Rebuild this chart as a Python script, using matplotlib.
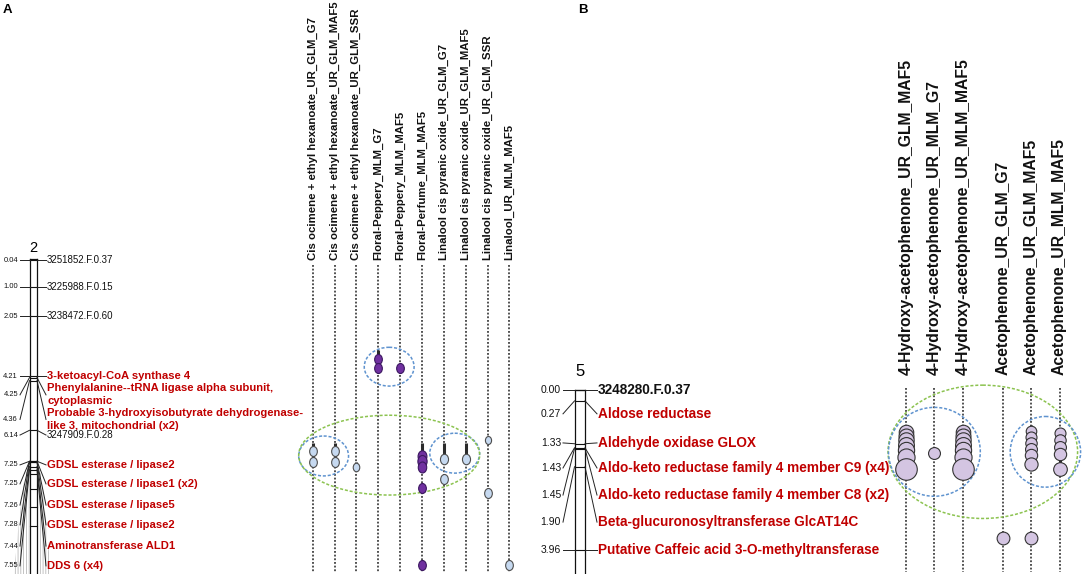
import numpy as np
import matplotlib
matplotlib.use('Agg')
import matplotlib.pyplot as plt
from matplotlib.patches import Ellipse, Polygon
from matplotlib.path import Path
from matplotlib.transforms import Affine2D

plt.rcParams['font.family'] = ['Liberation Sans', 'DejaVu Sans']
plt.rcParams['hatch.linewidth'] = 0.5

# ---------------- panel A : linkage group 2 ----------------
lg_a = '2'
pos_a = [0.04, 1.00, 2.05, 4.21, 4.25, 4.36, 6.14, 7.25, 7.25, 7.26, 7.28, 7.44, 7.55]
names_a = ['3251852.F.0.37', '3225988.F.0.15', '3238472.F.0.60',
           '3-ketoacyl-CoA synthase 4',
           'Phenylalanine--tRNA ligase alpha subunit,\ncytoplasmic',
           'Probable 3-hydroxyisobutyrate dehydrogenase-\nlike 3, mitochondrial (x2)',
           '3247909.F.0.28',
           'GDSL esterase / lipase2', 'GDSL esterase / lipase1 (x2)',
           'GDSL esterase / lipase5', 'GDSL esterase / lipase2',
           'Aminotransferase ALD1', 'DDS 6 (x4)']
gene_a = [False, False, False, True, True, True, False,
          True, True, True, True, True, True]
# unlabelled loci crossing the bar (cM)
extra_a = [7.71, 8.24, 8.90, 9.57]

traits_a = ['Cis ocimene + ethyl hexanoate_UR_GLM_G7',
            'Cis ocimene + ethyl hexanoate_UR_GLM_MAF5',
            'Cis ocimene + ethyl hexanoate_UR_GLM_SSR',
            'Floral-Peppery_MLM_G7',
            'Floral-Peppery_MLM_MAF5',
            'Floral-Perfume_MLM_MAF5',
            'Linalool cis pyranic oxide_UR_GLM_G7',
            'Linalool cis pyranic oxide_UR_GLM_MAF5',
            'Linalool cis pyranic oxide_UR_GLM_SSR',
            'Linalool_UR_MLM_MAF5']
sensory_a = [False, False, False, True, True, True, False, False, False, False]
# QTL peaks per trait: (cM, score)
qtl_a = [
    [(6.88, 2.0), (7.28, 2.0)],
    [(6.88, 2.0), (7.28, 2.0)],
    [(7.46, 1.7)],
    [(3.59, 2.0), (3.90, 2.0)],
    [(3.90, 2.0)],
    [(7.06, 2.3), (7.23, 2.4), (7.44, 2.2), (8.20, 2.0), (10.97, 2.0)],
    [(7.18, 2.1), (7.89, 2.0)],
    [(7.18, 2.1)],
    [(6.49, 1.6), (8.40, 2.0)],
    [(10.97, 2.0)],
]
ci_a = [(6.59, 7.46), (6.59, 7.46), (7.28, 7.56), (3.26, 3.98), (3.80, 3.98),
        (6.59, 7.42), (6.59, 7.17), (6.59, 7.17), None, None]
# grouping ovals: (trait indices, centre cM, height cM, colour)
groups_a = [([3, 4], 3.86, 1.39, 'blue'),
            ([0, 1], 7.06, 1.43, 'blue'),
            ([6, 7], 6.96, 1.43, 'blue'),
            ([0, 1, 2, 3, 4, 5, 6, 7], 7.03, 2.86, 'green')]

# ---------------- panel B : linkage group 5 ----------------
lg_b = '5'
pos_b = [0.00, 0.27, 1.33, 1.43, 1.45, 1.90, 3.96]
names_b = ['3248280.F.0.37', 'Aldose reductase', 'Aldehyde oxidase GLOX',
           'Aldo-keto reductase family 4 member C9 (x4)',
           'Aldo-keto reductase family 4 member C8 (x2)',
           'Beta-glucuronosyltransferase GlcAT14C',
           'Putative Caffeic acid 3-O-methyltransferase']
gene_b = [False, True, True, True, True, True, True]

traits_b = ['4-Hydroxy-acetophenone_UR_GLM_MAF5',
            '4-Hydroxy-acetophenone_UR_MLM_G7',
            '4-Hydroxy-acetophenone_UR_MLM_MAF5',
            'Acetophenone_UR_GLM_G7',
            'Acetophenone_UR_GLM_MAF5',
            'Acetophenone_UR_MLM_MAF5']
qtl_b = [
    [(1.04, 3.3), (1.14, 3.4), (1.24, 3.5), (1.36, 3.6), (1.49, 3.7), (1.66, 3.9), (1.96, 4.9)],
    [(1.55, 2.7)],
    [(1.04, 3.3), (1.14, 3.4), (1.24, 3.5), (1.36, 3.6), (1.49, 3.7), (1.66, 3.9), (1.96, 4.9)],
    [(3.67, 2.9)],
    [(1.01, 2.4), (1.16, 2.5), (1.31, 2.6), (1.46, 2.7), (1.61, 2.8), (1.83, 3.0), (3.67, 2.9)],
    [(1.06, 2.5), (1.24, 2.6), (1.41, 2.7), (1.58, 2.8), (1.96, 3.1)],
]
ci_b = [None, (1.41, 1.68), None, None, (0.87, 1.98), (0.94, 1.98)]
groups_b = [([0, 1, 2, 3, 4, 5], 1.53, 3.30, 'green'),
            ([0, 1, 2], 1.53, 2.20, 'blue'),
            ([4, 5], 1.53, 1.75, 'blue')]

# ---------------- layout ----------------
W, H = 1084, 574
fig = plt.figure(figsize=(W / 100, H / 100), dpi=100)


def full_axes(ylim):
    ax = fig.add_axes([0, 0, 1, 1])
    ax.set_xlim(0, W)
    ax.set_ylim(*ylim)
    ax.axis('off')
    ax.patch.set_alpha(0)
    return ax


lay = full_axes((H, 0))
a0, ak = 259, 27.9      # pixel row of 0 cM, pixels per cM
b0, bk = 390, 40.4
axA = full_axes(((H - a0) / ak, -a0 / ak))
axB = full_axes(((H - b0) / bk, -b0 / bk))

RED = '#c00000'
ring = {'blue': '#5f93cf', 'green': '#8cc350'}

oval_a = Path.unit_circle().transformed(Affine2D().scale(1.0, 1.3))
oval_b = Path.unit_circle().transformed(Affine2D().scale(1.0, 1.0))


def draw_group(ax, pos, names, genes, lab_y, bar_l, bar_r, bar_end, extra,
               val_x, txt_x, fs_val, fs_gene, fs_mark, mark_bold):
    for x in (bar_l, bar_r):
        ax.plot([x, x], [0, bar_end], color='#111', lw=0.9)
    ax.plot([bar_l, bar_r], [0, 0], color='#111', lw=0.9)
    for p in list(pos) + list(extra):
        ax.plot([bar_l, bar_r], [p, p], color='#111', lw=0.8)
    for p, nm, g, ly in zip(pos, names, genes, lab_y):
        ax.plot([val_x + 2, bar_l], [ly, p], color='#222', lw=0.7)
        ax.plot([bar_r, txt_x - 1], [p, ly], color='#222', lw=0.7)
        ax.text(val_x, ly, f'{p:.2f}', ha='right', va='center',
                fontsize=fs_val, color='#111')
        if g:
            ax.text(txt_x, ly, nm, ha='left', va='center', fontsize=fs_gene,
                    color=RED, fontweight='bold', linespacing=1.4)
        else:
            ax.text(txt_x, ly, nm, ha='left', va='center', fontsize=fs_mark,
                    color='#111', fontweight='bold' if mark_bold else 'normal')


# label rows (in cM-equivalent units of each map)
lab_a = [0.04, 1.00, 2.05, 4.21, 4.87, 5.75, 6.31, 7.38, 8.06, 8.82, 9.53, 10.29, 11.00]
lab_b = [0.00, 0.59, 1.31, 1.93, 2.60, 3.27, 3.96]

draw_group(axA, pos_a, names_a, gene_a, lab_a, 29.5, 37.0, 12.0, extra_a,
           18, 47, 5.4, 8.1, 7.0, False)
draw_group(axB, pos_b, names_b, gene_b, lab_b, 574.5, 585.0, 5.0, [],
           561, 598, 7.5, 9.8, 9.8, True)

# fans of unlabelled connectors below the GDSL cluster
lay.add_patch(Polygon([(29.5, 468), (29.5, 574), (14, 574), (19, 520), (25, 474)],
                      closed=True, fill=False, hatch='||||||', edgecolor='#aaa', lw=0))
lay.add_patch(Polygon([(37, 468), (37, 574), (51, 574), (46, 520), (41, 474)],
                      closed=True, fill=False, hatch='||||||', edgecolor='#aaa', lw=0))

lay.text(33, 248, lg_a, ha='center', va='center', fontsize=10.5)
lay.text(580, 372, lg_b, ha='center', va='center', fontsize=12)
lay.text(3, 10, 'A', ha='left', va='center', fontsize=9.5, fontweight='bold')
lay.text(578, 10, 'B', ha='left', va='center', fontsize=9.5, fontweight='bold')

# trait columns
xs_a = [312.7 + 21.85 * i for i in range(len(traits_a))]
xs_b = [906 + 28.4 * i + (11.6 if i >= 3 else 0) for i in range(len(traits_b))]


def draw_traits(ax, xs, traits, head_y, line_top, fs, weight, qtl, ci, colours,
                oval, px_per_score):
    for x, t in zip(xs, traits):
        lay.text(x, head_y, t, rotation=90, ha='center', va='bottom',
                 fontsize=fs, fontweight=weight, color='#111')
        lay.plot([x, x], [line_top, 572], color='#333', lw=1.2,
                 linestyle=(0, (1.1, 1.1)))
    for x, c, q, (fc, ec) in zip(xs, ci, qtl, colours):
        if c is not None:
            ax.plot([x, x], list(c), color='#2b2b2b', lw=2.2, solid_capstyle='butt')
        for cm, s in sorted(q):
            ax.plot(x, cm, marker=oval, ms=s * px_per_score * 0.72,
                    mfc=fc, mec=ec, mew=0.8, linestyle='none')


col_a = [('#7030a0', '#3b1760') if s else ('#c6d9f0', '#4d4d4d') for s in sensory_a]
col_b = [('#d4c5e2', '#333333')] * len(traits_b)
draw_traits(axA, xs_a, traits_a, 260, 265, 8.2, 'bold', qtl_a, ci_a, col_a,
            oval_a, 5.0)
draw_traits(axB, xs_b, traits_b, 375, 388, 11.3, 'bold', qtl_b, ci_b, col_b,
            oval_b, 4.4)


def draw_rings(ax, xs, groups, pads):
    for (idx, yc, h, c), pad in zip(groups, pads):
        x0, x1 = xs[min(idx)], xs[max(idx)]
        ax.add_patch(Ellipse(((x0 + x1) / 2, yc), x1 - x0 + pad, h, fill=False,
                             edgecolor=ring[c], lw=1.1, linestyle=(0, (2, 1.2))))


draw_rings(axA, xs_a, groups_a, [28, 28, 28, 28])
draw_rings(axB, xs_b, groups_b, [36, 35, 42])

fig.savefig('out.png', dpi=100)
